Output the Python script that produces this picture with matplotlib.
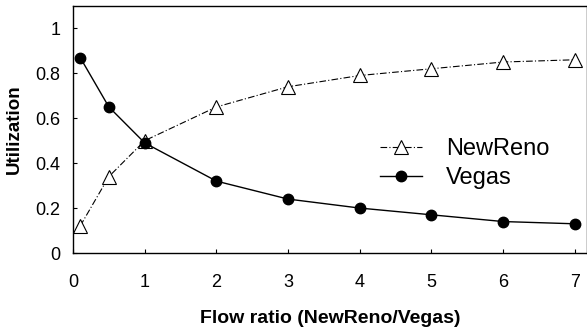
import numpy as np
import matplotlib.pyplot as plt

plt.rcParams['font.family'] = ['Liberation Sans', 'DejaVu Sans']

# flow ratio (NewReno/Vegas)
ratio = [0.1, 0.5, 1, 2, 3, 4, 5, 6, 7]
newreno = [0.12, 0.34, 0.50, 0.65, 0.74, 0.79, 0.82, 0.85, 0.86]
vegas = [0.87, 0.65, 0.49, 0.32, 0.24, 0.20, 0.17, 0.14, 0.13]

fig = plt.figure(figsize=(5.87, 3.34), dpi=100)
ax = fig.add_axes([0.1244, 0.2425, 0.8756, 0.740])

ax.plot(ratio, newreno, color='black', lw=0.8, dashes=[6, 2, 1, 2],
        marker='^', ms=10, mfc='white', mec='black', mew=0.8, label='NewReno')
ax.plot(ratio, vegas, color='black', lw=1.0,
        marker='o', ms=7.5, mfc='black', mec='black', label='Vegas')

ax.set_xlim(0, 7.17)
ax.set_ylim(0, 1.1)
ax.set_xticks(range(8))
ax.set_yticks([0, 0.2, 0.4, 0.6, 0.8, 1])
ax.set_yticklabels(['0', '0.2', '0.4', '0.6', '0.8', '1'])
ax.tick_params(axis='x', direction='in', length=3, labelsize=13, pad=15)
ax.tick_params(axis='y', direction='in', length=3, labelsize=13, pad=9)
for s in ax.spines.values():
    s.set_linewidth(1.0)

ax.set_xlabel('Flow ratio (NewReno/Vegas)', fontsize=14, fontweight='bold', labelpad=14)
ax.set_ylabel('Utilization', fontsize=13.5, fontweight='bold', labelpad=9)

ax.legend(loc='center left', bbox_to_anchor=(0.647, 0.51), bbox_transform=fig.transFigure,
          frameon=False, fontsize=17, handlelength=1.8, handletextpad=1.0,
          labelspacing=0.3, borderpad=0, borderaxespad=0)

fig.savefig('out.png', dpi=100)
